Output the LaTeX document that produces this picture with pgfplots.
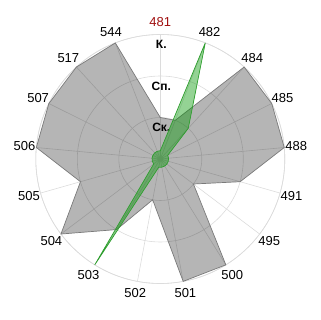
\documentclass[border=0pt]{standalone}
\usepackage{fontspec}
\setmainfont{Liberation Sans}
\usepackage{pgfplots}
\pgfplotsset{compat=1.18}
\usepgfplotslibrary{polar}
\definecolor{gridc}{HTML}{DCDCDC}
\definecolor{lab}{HTML}{A01010}
\definecolor{gedge}{HTML}{2E9E2E}
\definecolor{gfill}{RGB}{0,150,0}
\definecolor{grayedge}{HTML}{7A7A7A}
\begin{document}
\begin{tikzpicture}
\path[use as bounding box] (0,0) rectangle (320pt,320pt);
\begin{polaraxis}[
  at={(160.3pt,161pt)}, anchor=center,
  scale only axis, width=249pt, height=249pt,
  xmin=90, xmax=450, ymin=0, ymax=3,
  xtick={90,111.1765,132.3529,153.5294,174.7059,195.8824,217.0588,238.2353,259.4118,280.5882,301.7647,322.9412,344.1176,365.2941,386.4706,407.6471,428.8235},
  xticklabels={\textcolor{lab}{481},544,517,507,506,505,504,503,502,501,500,495,491,488,485,484,482},
  ytick={1,2,3},
  yticklabels={\textbf{Ск.},\textbf{Сп.},\textbf{К.}},
  /pgf/number format/assume math mode=true,
  xticklabel style={font=\fontsize{13}{15}\selectfont, anchor=center, shift={(\tick:12pt)}},
  yticklabel style={font=\fontsize{12}{14}\selectfont, anchor=center, xshift=1pt, yshift=-10pt},
  grid=major,
  major grid style={gridc, line width=0.6pt},
  axis line style={gridc, line width=0.6pt},
  major tick length=0pt,
  clip=false,
]
\addplot[draw=grayedge, line width=0.7pt, fill=black, fill opacity=0.29] coordinates {
(90,1) (111.1765,3) (132.3529,3) (153.5294,3) (174.7059,3) (195.8824,2) (217.0588,3) (238.2353,2) (259.4118,1) (280.5882,3) (301.7647,3) (322.9412,1) (344.1176,2) (365.2941,3) (386.4706,3) (407.6471,3) (428.8235,1) (450,1)
};
\addplot[draw=gedge, line width=0.7pt, fill=gfill, fill opacity=0.42] coordinates {
(90,0.2) (111.1765,0.2) (132.3529,0.2) (153.5294,0.2) (174.7059,0.2) (195.8824,0.2) (217.0588,0.2) (238.2353,3) (259.4118,0.2) (280.5882,0.2) (301.7647,0.2) (322.9412,0.2) (344.1176,0.2) (365.2941,0.2) (386.4706,0.2) (407.6471,1) (428.8235,3) (450,0.2)
};
\end{polaraxis}
\end{tikzpicture}
\end{document}
